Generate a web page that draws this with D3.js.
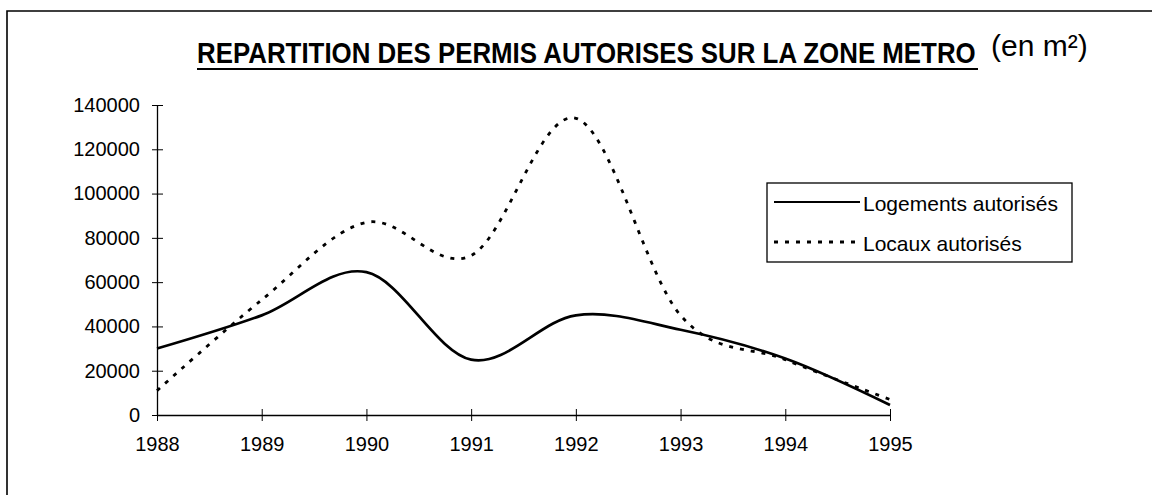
<!DOCTYPE html>
<meta charset="utf-8">
<style>
body { margin: 0; background: #fff; }
svg { display: block; font-family: "Liberation Sans", Arial, sans-serif; }
.axis line, .axis path { stroke: #000; }
.tick text { font-size: 20px; fill: #000; }
.legend text { font-size: 21px; }
</style>
<body>
<svg width="1152" height="495"></svg>
</body>
<script src="https://cdn.jsdelivr.net/npm/d3@7"></script>
<script>

// values (m²)
var years = [1988, 1989, 1990, 1991, 1992, 1993, 1994, 1995];
var logements = [30000, 45000, 64500, 25000, 45000, 38500, 25500, 4500];
var locaux = [11000, 52000, 87000, 72000, 134000, 45000, 25000, 7000];
var yTicks = [0, 20000, 40000, 60000, 80000, 100000, 120000, 140000];
var seriesNames = ["Logements autorisés", "Locaux autorisés"];

var svg = d3.select("svg");

var x = d3.scaleLinear()
    .domain([1988, 1995])
    .range([157, 890]);

var y = d3.scaleLinear()
    .domain([0, 140000])
    .range([415, 105]);

// frame of the scanned page
svg.append("path")
    .attr("d", "M7,495V11H1152")
    .attr("fill", "none")
    .attr("stroke", "#000")
    .attr("stroke-width", 1.6);

// title (condensed bold, underlined)
var title = svg.append("text")
    .attr("font-size", 29)
    .attr("font-weight", "bold")
    .text("REPARTITION DES PERMIS AUTORISES SUR LA ZONE METRO");

// squeeze it horizontally to the width it has in the scan
var tw = title.node().getComputedTextLength();
title.attr("transform", "translate(197,63) scale(" + (779 / tw) + ",1)");

svg.append("line")
    .attr("x1", 197).attr("x2", 978)
    .attr("y1", 69).attr("y2", 69)
    .attr("stroke", "#000")
    .attr("stroke-width", 2);

svg.append("text")
    .attr("x", 991)
    .attr("y", 56)
    .attr("font-size", 30)
    .text("(en m²)");

// axes, ticks crossing the axis line like the excel chart
var yAxis = svg.append("g")
    .attr("class", "axis")
    .attr("transform", "translate(" + x(1988) + ",0)")
    .call(d3.axisLeft(y).tickValues(yTicks).tickSize(0).tickPadding(17).tickFormat(d3.format("d")));

yAxis.selectAll(".tick").append("line")
    .attr("x1", -5).attr("x2", 6)
    .attr("stroke", "#000");

var xAxis = svg.append("g")
    .attr("class", "axis")
    .attr("transform", "translate(0," + y(0) + ")")
    .call(d3.axisBottom(x).tickValues(years).tickSize(0).tickPadding(22).tickFormat(d3.format("d")));

xAxis.selectAll(".tick").append("line")
    .attr("y1", -6).attr("y2", 6)
    .attr("stroke", "#000");

svg.selectAll(".axis .domain").attr("stroke-width", 1.3);
svg.selectAll(".tick text").attr("font-family", "Liberation Sans, Arial, sans-serif");

// smoothed lines
var line = d3.line()
    .x(function(d, i) { return x(years[i]); })
    .y(function(d) { return y(d); })
    .curve(d3.curveCatmullRom.alpha(0));

svg.append("path")
    .datum(logements)
    .attr("fill", "none")
    .attr("stroke", "#000")
    .attr("stroke-width", 2.7)
    .attr("d", line);

svg.append("path")
    .datum(locaux)
    .attr("fill", "none")
    .attr("stroke", "#000")
    .attr("stroke-width", 2.8)
    .attr("stroke-dasharray", "4,7")
    .attr("d", line);

// legend
var lg = svg.append("g").attr("class", "legend");

lg.append("rect")
    .attr("x", 767).attr("y", 183)
    .attr("width", 305).attr("height", 79)
    .attr("fill", "#fff")
    .attr("stroke", "#000")
    .attr("stroke-width", 1.3);

var rows = lg.selectAll(".row")
    .data(seriesNames)
    .enter().append("g")
    .attr("class", "row")
    .attr("transform", function(d, i) { return "translate(0," + (202 + i * 40) + ")"; });

rows.append("line")
    .attr("x1", 774).attr("x2", 860)
    .attr("stroke", "#000")
    .attr("stroke-width", function(d, i) { return i == 0 ? 2 : 2.8; })
    .attr("stroke-dasharray", function(d, i) { return i == 0 ? null : "4,7"; });

rows.append("text")
    .attr("x", 863)
    .attr("y", 9)
    .text(function(d) { return d; });

</script>
